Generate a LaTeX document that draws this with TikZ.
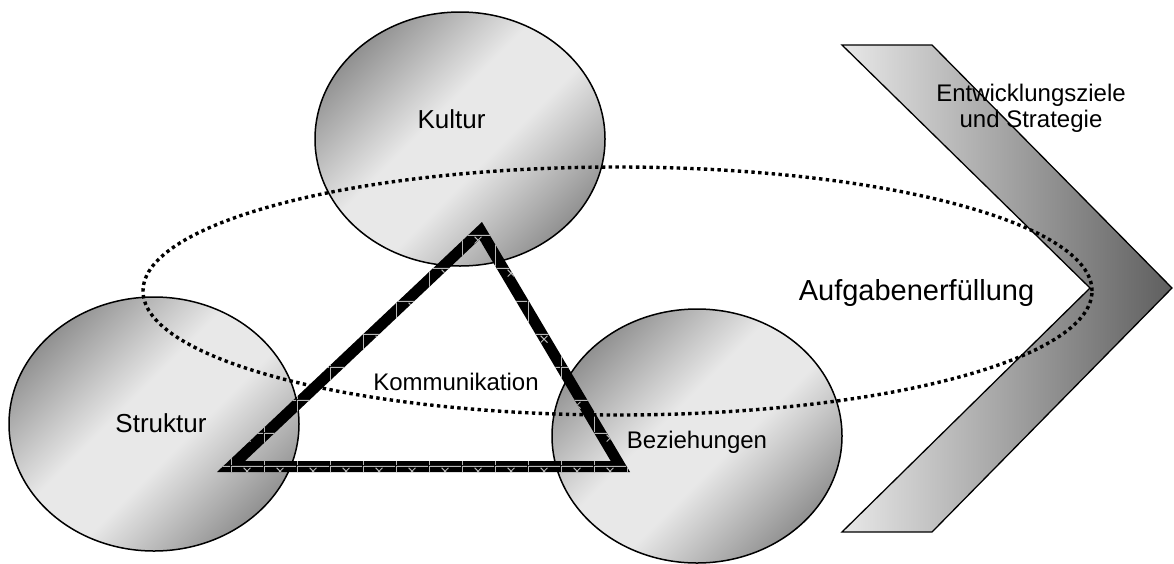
\documentclass[tikz,border=0pt]{standalone}
\usepackage{fontspec}
\setmainfont{Liberation Sans}
\usetikzlibrary{shapes.geometric,patterns}

% light trellis texture laid over the black triangle band
\pgfdeclarepatternformonly{trellis}{\pgfpointorigin}{\pgfpoint{33pt}{33pt}}{\pgfpoint{33pt}{33pt}}{%
  \pgfsetlinewidth{1pt}%
  \pgfpathmoveto{\pgfpoint{0.5pt}{0pt}}\pgfpathlineto{\pgfpoint{0.5pt}{33pt}}%
  \pgfpathmoveto{\pgfpoint{0pt}{32.5pt}}\pgfpathlineto{\pgfpoint{33pt}{32.5pt}}%
  \pgfpathmoveto{\pgfpoint{13pt}{31pt}}\pgfpathlineto{\pgfpoint{20pt}{24pt}}%
  \pgfpathmoveto{\pgfpoint{13pt}{24pt}}\pgfpathlineto{\pgfpoint{20pt}{31pt}}%
  \pgfusepath{stroke}}

\definecolor{spheredark}{gray}{0.57}
\definecolor{spherelight}{gray}{0.91}
\definecolor{chevlight}{gray}{0.91}
\definecolor{chevdark}{gray}{0.37}
\definecolor{trelliscolor}{gray}{0.72}

% dark rims, broad light band across the middle
\pgfdeclareverticalshading{sphereshade}{100bp}{%
  color(0bp)=(spheredark); color(25bp)=(spheredark);
  color(44bp)=(spherelight); color(56bp)=(spherelight);
  color(75bp)=(spheredark); color(100bp)=(spheredark)}

\begin{document}
\begin{tikzpicture}[x=1pt,y=-1pt,
  sphere/.style={ellipse, draw=black, line width=1.5pt, inner sep=0pt,
    minimum width=290pt, minimum height=254pt,
    shade, shading=sphereshade, shading angle=45},
  ring/.style={ellipse, draw=black, line width=3.4pt, inner sep=0pt,
    dash pattern=on 3.4pt off 3.4pt},
  biglabel/.style={anchor=base, font=\fontsize{26}{31}\selectfont},
  midlabel/.style={anchor=base, font=\fontsize{24}{26}\selectfont},
  tasklabel/.style={anchor=base, font=\fontsize{29}{34}\selectfont}]
\useasboundingbox (0,0) rectangle (1174,563);

% chevron: development goals and strategy
\path[draw=black, line width=1.3pt, left color=chevlight, right color=chevdark]
  (842,45) -- (932,45) -- (1172,288) -- (932,532) -- (842,532) -- (1090,288) -- cycle;

% the three spheres
\node[sphere] (kultur) at (460,139) {};
\node[sphere] (struktur) at (154,424) {};
\node[sphere] (beziehungen) at (697,436) {};

% communication triangle: black band with trellis texture
\coordinate (tA) at (217,472);
\coordinate (tB) at (482,222);
\coordinate (tC) at (630,472);
\coordinate (iA) at (245,461);
\coordinate (iB) at (479.5,239.5);
\coordinate (iC) at (610.7,461);
\fill[black, even odd rule] (tA) -- (tB) -- (tC) -- cycle (iA) -- (iB) -- (iC) -- cycle;
\fill[pattern=trellis, pattern color=trelliscolor, even odd rule]
  (tA) -- (tB) -- (tC) -- cycle (iA) -- (iB) -- (iC) -- cycle;

% dotted ring of task fulfilment
\node[ring, minimum width=949pt, minimum height=248pt] (aufgabe) at (617.5,291) {};

% labels
\node[biglabel] (kulturtext) at (451.5,128) {Kultur};
\node[biglabel] (strukturtext) at (161,432.7) {Struktur};
\node[midlabel] (kommtext) at (456,390) {Kommunikation};
\node[midlabel] (beztext) at (697,448) {Beziehungen};
\node[tasklabel] (aufgabetext) at (916.5,300) {Aufgabenerfüllung};
\node[midlabel] (zieletext) at (1031,101) {Entwicklungsziele};
\node[midlabel] (strategietext) at (1031,127) {und Strategie};
\end{tikzpicture}
\end{document}
